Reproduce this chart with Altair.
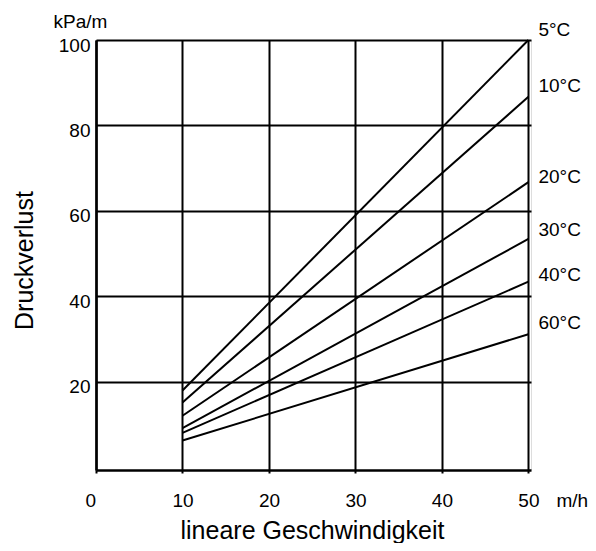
import altair as alt
import pandas as pd

FONT = "Liberation Sans"

temps = ["5°C", "10°C", "20°C", "30°C", "40°C", "60°C"]
speed = [10, 50]
loss_at_10 = [17.9, 15.1, 12.0, 9.1, 8.0, 6.2]
loss_at_50 = [100.0, 86.7, 66.7, 53.4, 43.4, 31.1]
label_y = [102.3, 89.2, 67.9, 55.5, 45.0, 33.8]
x_ticks = [0, 10, 20, 30, 40, 50]
y_ticks = [20, 40, 60, 80, 100]

rows = []
for t, a, b in zip(temps, loss_at_10, loss_at_50):
    rows.append({"temp": t, "v": speed[0], "p": a})
    rows.append({"temp": t, "v": speed[1], "p": b})
lines_df = pd.DataFrame(rows)
labels_df = pd.DataFrame({"temp": temps, "v": [50] * len(temps), "p": label_y})

xscale = alt.Scale(domain=[0, 50.3], nice=False, zero=False)
yscale = alt.Scale(domain=[-0.7, 100], nice=False, zero=False)

x_axis = alt.Axis(
    values=x_ticks, title="lineare Geschwindigkeit", grid=True, gridColor="black",
    gridWidth=2, gridOpacity=1, domainColor="black", domainWidth=2.5,
    tickColor="black", tickSize=3, tickWidth=2,
    labelFont=FONT, labelFontSize=19, labelColor="black", labelBaseline="alphabetic",
    labelPadding=33, labelOffset=alt.condition("datum.value == 0", alt.value(-11), alt.value(0)),
    titleFont=FONT, titleFontSize=25, titleFontWeight="normal", titleColor="black",
    titleX=216, titleY=68, titleAlign="center", titleBaseline="alphabetic",
)
y_axis = alt.Axis(
    values=y_ticks, title="Druckverlust", grid=True, gridColor="black",
    gridWidth=2, gridOpacity=1, domainColor="black", domainWidth=2.5,
    ticks=False, tickSize=0, labelPadding=6, labelOffset=5,
    labelFont=FONT, labelFontSize=19, labelColor="black",
    titleFont=FONT, titleFontSize=25, titleFontWeight="normal", titleColor="black",
    titleX=-72, titleY=220, titleAngle=-90, titleAlign="center", titleBaseline="middle",
)

lines = alt.Chart(lines_df).mark_line(color="black", strokeWidth=2).encode(
    x=alt.X("v:Q", scale=xscale, axis=x_axis),
    y=alt.Y("p:Q", scale=yscale, axis=y_axis),
    detail="temp:N",
)

x_axis2 = alt.Axis(
    title="m/h", labels=False, ticks=False, domain=False, grid=False, orient="bottom",
    titleFont=FONT, titleFontSize=19, titleFontWeight="normal", titleColor="black",
    titleX=460, titleY=36, titleAlign="left", titleBaseline="alphabetic",
)
y_axis2 = alt.Axis(
    title="kPa/m", labels=False, ticks=False, domain=False, grid=False, orient="left",
    titleFont=FONT, titleFontSize=19, titleFontWeight="normal", titleColor="black",
    titleX=-43, titleY=-13, titleAngle=0, titleAlign="left", titleBaseline="alphabetic",
)

labels = alt.Chart(labels_df).mark_text(
    align="left", baseline="middle", dx=10, font=FONT, fontSize=19, color="black"
).encode(
    x=alt.X("v:Q", scale=xscale, axis=x_axis2),
    y=alt.Y("p:Q", scale=yscale, axis=y_axis2),
    text="temp:N",
)

chart = alt.layer(lines, labels).resolve_axis(x="independent", y="independent").properties(
    width=435, height=430,
    autosize=alt.AutoSizeParams(type="none"),
    padding={"left": 88, "top": 32, "right": 57, "bottom": 73},
).configure_view(stroke=None).configure(background="white")

chart.save("out.html", embed_options={"renderer": "svg", "actions": False})
